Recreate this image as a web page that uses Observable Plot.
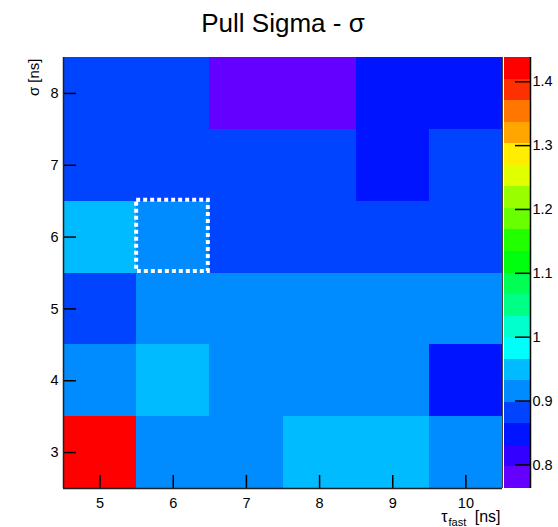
<!DOCTYPE html>
<html><head><meta charset="utf-8">
<script src="https://cdn.jsdelivr.net/npm/d3@7"></script>
<script src="https://cdn.jsdelivr.net/npm/@observablehq/plot@0.6"></script>
<style>
body{margin:0;background:#fff;}
#chart{position:relative;width:558px;height:527px;background:#fff;}
#chart svg{position:absolute;left:0;top:0;}
</style></head><body><div id="chart"></div>
<script>
const title = "Pull Sigma - σ";
const xBins = [5, 6, 7, 8, 9, 10];
const yBins = [3, 4, 5, 6, 7, 8];
// values[row][col]: row follows yBins (σ), col follows xBins (τ_fast)
const values = [
  [1.438, 0.915, 0.920, 0.945, 0.950, 0.910], // σ = 3
  [0.920, 0.950, 0.910, 0.915, 0.912, 0.842], // σ = 4
  [0.877, 0.912, 0.918, 0.910, 0.915, 0.920], // σ = 5
  [0.945, 0.915, 0.870, 0.876, 0.884, 0.880], // σ = 6
  [0.875, 0.880, 0.882, 0.878, 0.848, 0.872], // σ = 7
  [0.880, 0.885, 0.763, 0.780, 0.850, 0.845]  // σ = 8
];
const xTicks = [5, 6, 7, 8, 9, 10];
const yTicks = [3, 4, 5, 6, 7, 8];
const zTicks = [0.8, 0.9, 1.0, 1.1, 1.2, 1.3, 1.4];
const palette = ["#6300ff","#3300ff","#0014ff","#0044ff","#008bff","#00bbff","#00fffb","#00ffcc","#00ff85","#00ff55",
                 "#00ff0e","#22ff00","#69ff00","#99ff00","#e0ff00","#ffee00","#ffa700","#ff7700","#ff3000","#ff0000"];
const highlight = [{x: 6, y: 6}];

const cells = yBins.flatMap((y, i) => xBins.map((x, j) => ({x, y, v: values[i][j]})));
const zmin = d3.min(cells, d => d.v);
const zmax = d3.max(cells, d => d.v);
const nLevels = palette.length;
const w = (zmax - zmin) / nLevels;
const thresholds = d3.range(1, nLevels).map(k => zmin + k * w);
const bands = d3.range(nLevels).map(k => ({lo: zmin + k * w, hi: zmin + (k + 1) * w}));
const color = {type: "threshold", domain: thresholds, range: palette};
const font = "'Liberation Sans', Arial, Helvetica, sans-serif";
const fmt = d => String(d);

const main = Plot.plot({
  width: 558, height: 527,
  marginTop: 57, marginBottom: 39, marginLeft: 63, marginRight: 56,
  style: {fontFamily: font, background: "transparent"},
  x: {domain: [4.5, 10.5], axis: null},
  y: {domain: [2.5, 8.5], axis: null},
  color,
  marks: [
    Plot.rect(cells, {x1: d => d.x - 0.5, x2: d => d.x + 0.5, y1: d => d.y - 0.5, y2: d => d.y + 0.5,
                      fill: "v", shapeRendering: "crispEdges"}),
    Plot.rect(highlight, {x1: d => d.x - 0.5, x2: d => d.x + 0.5, y1: d => d.y - 0.5, y2: d => d.y + 0.5,
                          fill: "none", stroke: "white", strokeWidth: 4, strokeDasharray: "4,3",
                          insetTop: -1, insetRight: 1.5, insetBottom: 1.5}),
    Plot.tickX(xTicks, {x: d => d, insetTop: 418, stroke: "black", strokeWidth: 1.5}),
    Plot.tickY(yTicks, {y: d => d, insetRight: 426, stroke: "black", strokeWidth: 1.5}),
    Plot.ruleX([4.5], {stroke: "#222", strokeWidth: 1.5}),
    Plot.ruleX([10.5], {stroke: "#444", strokeWidth: 1}),
    Plot.ruleY([2.5], {stroke: "#222", strokeWidth: 1.5}),
    Plot.axisX(xTicks, {tickSize: 0, tickPadding: 9, fontSize: 14.5, tickFormat: fmt, label: null}),
    Plot.axisY(yTicks, {tickSize: 0, tickPadding: 5, fontSize: 14.5, tickFormat: fmt, label: null}),
    Plot.text([title], {text: d => d, frameAnchor: "top", lineAnchor: "bottom", dy: -26, fontSize: 26}),
    Plot.text(["[ns]"], {text: d => d, frameAnchor: "bottom-right", textAnchor: "end", lineAnchor: "bottom", dx: -2, dy: 33, fontSize: 16}),
    Plot.text(["fast"], {text: d => d, frameAnchor: "bottom-right", textAnchor: "start", lineAnchor: "bottom", dx: -54, dy: 37, fontSize: 11}),
    Plot.text(["τ"], {text: d => d, frameAnchor: "bottom-right", textAnchor: "end", lineAnchor: "bottom", dx: -55, dy: 33, fontSize: 16}),
    Plot.text(["σ [ns]"], {text: d => d, frameAnchor: "top-left", rotate: -90, textAnchor: "end", lineAnchor: "bottom", dx: -25, dy: 1, fontSize: 15})
  ]
});

const bar = Plot.plot({
  width: 558, height: 527,
  marginTop: 57, marginBottom: 39, marginLeft: 504, marginRight: 28,
  style: {fontFamily: font, background: "transparent"},
  x: {domain: [0, 1], axis: null},
  y: {domain: [zmin, zmax], axis: null},
  color,
  marks: [
    Plot.rect(bands, {x1: 0, x2: 1, y1: "lo", y2: "hi", fill: d => (d.lo + d.hi) / 2, shapeRendering: "crispEdges"}),
    Plot.tickY(zTicks, {y: d => d, insetLeft: 11, stroke: "black", strokeWidth: 1.5}),
    Plot.ruleX([1], {stroke: "black", strokeWidth: 1.5}),
    Plot.axisY(zTicks, {anchor: "right", tickSize: 0, tickPadding: 2, tickFormat: fmt, fontSize: 14.5, label: null})
  ]
});

const chart = document.getElementById("chart");
chart.appendChild(main);
chart.appendChild(bar);
</script>
</body></html>
